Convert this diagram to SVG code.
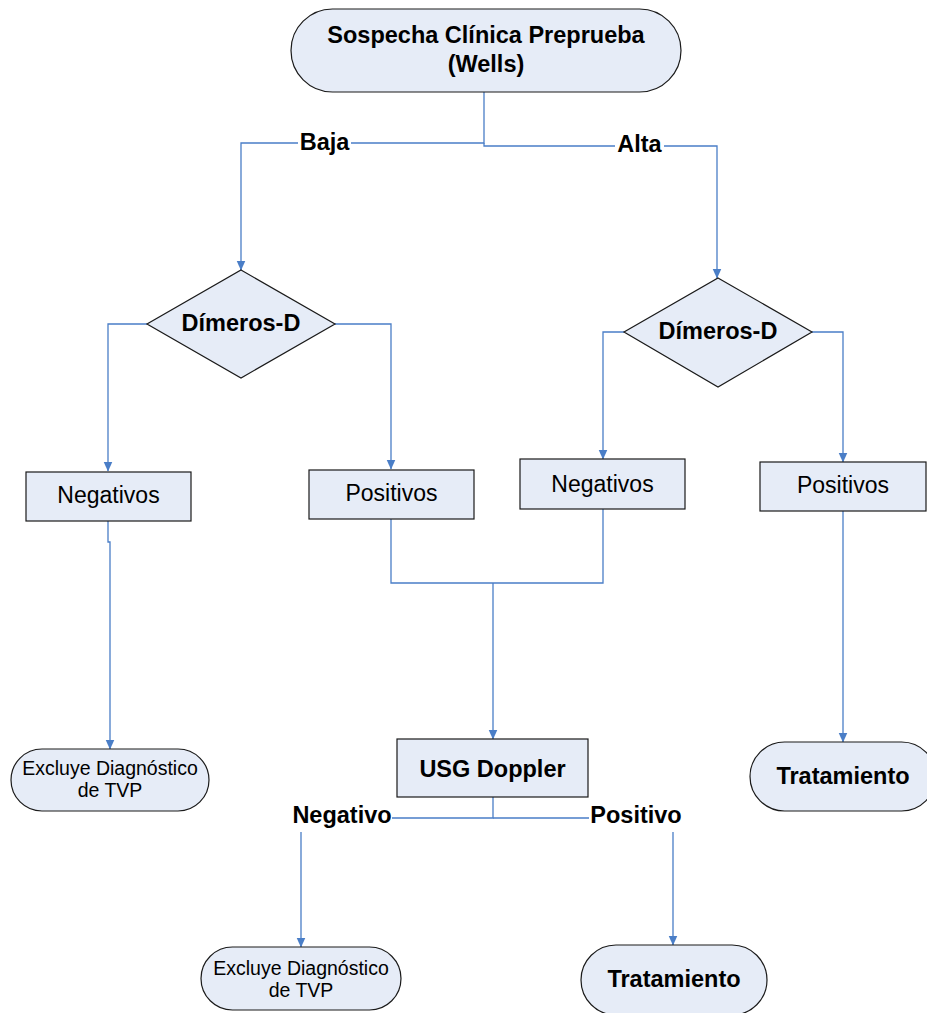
<svg xmlns="http://www.w3.org/2000/svg" width="927" height="1013" viewBox="0 0 927 1013">
<defs>
<style>
.shape{fill:#E6ECF7;stroke:#1a1a1a;stroke-width:1.2}
.conn{fill:none;stroke:#4A7EC7;stroke-width:1.3}
.b{font-family:"Liberation Sans",Arial,sans-serif;font-weight:bold;font-size:23.5px;fill:#000;text-anchor:middle}
.r{font-family:"Liberation Sans",Arial,sans-serif;font-size:23px;fill:#000;text-anchor:middle}
.s{font-family:"Liberation Sans",Arial,sans-serif;font-size:19.5px;fill:#000;text-anchor:middle}
.bg{fill:#fff}
</style>
<marker id="arr" markerUnits="userSpaceOnUse" markerWidth="10" markerHeight="11" refX="9.5" refY="5" orient="auto">
<path d="M0,0.5 L10,5 L0,9.5 Z" fill="#4A7EC7"/>
</marker>
</defs>
<rect width="927" height="1013" fill="#fff"/>
<g id="connectors">
<path class="conn" d="M484,92 V143 H241 V270" marker-end="url(#arr)"/>
<path class="conn" d="M484,143 V146 H717 V278" marker-end="url(#arr)"/>
<path class="conn" d="M147,324 H108 V471" marker-end="url(#arr)"/>
<path class="conn" d="M335,324 H391 V469" marker-end="url(#arr)"/>
<path class="conn" d="M624,332 H603 V459" marker-end="url(#arr)"/>
<path class="conn" d="M812,332 H843 V462" marker-end="url(#arr)"/>
<path class="conn" d="M108,521 V542 H110 V749" marker-end="url(#arr)"/>
<path class="conn" d="M391,519 V583 H603 V509"/>
<path class="conn" d="M493,583 V739" marker-end="url(#arr)"/>
<path class="conn" d="M843,511 V742" marker-end="url(#arr)"/>
<path class="conn" d="M493,797 V818 H301 V947" marker-end="url(#arr)"/>
<path class="conn" d="M493,818 H673 V945" marker-end="url(#arr)"/>
<g id="labels">
<rect class="bg" x="298" y="130" width="53" height="26"/>
<text class="b" x="324.5" y="150">Baja</text>
<rect class="bg" x="615" y="132" width="49" height="26"/>
<text class="b" x="639.5" y="152">Alta</text>
<rect class="bg" x="291" y="804" width="101" height="28"/>
<text class="b" x="342" y="823">Negativo</text>
<rect class="bg" x="589" y="804" width="95" height="28"/>
<text class="b" x="636" y="823">Positivo</text>
</g>
</g>
<g id="n-inicio">
<rect class="shape" x="291" y="9" width="390" height="83" rx="41.5"/>
<text class="b" x="486" y="43">Sospecha Clínica Preprueba</text>
<text class="b" x="486" y="72">(Wells)</text>
</g>
<g id="n-dimeros-baja">
<polygon class="shape" points="241,270 335,324 241,378 147,324"/>
<text class="b" x="241" y="331">Dímeros-D</text>
</g>
<g id="n-dimeros-alta">
<polygon class="shape" points="718,278 812,332 718,387 624,332"/>
<text class="b" x="718" y="339">Dímeros-D</text>
</g>
<g id="n-neg-baja">
<rect class="shape" x="26" y="472" width="165" height="49"/>
<text class="r" x="108.5" y="503">Negativos</text>
</g>
<g id="n-pos-baja">
<rect class="shape" x="309" y="470" width="165" height="49"/>
<text class="r" x="391.5" y="501">Positivos</text>
</g>
<g id="n-neg-alta">
<rect class="shape" x="520" y="459" width="165" height="50"/>
<text class="r" x="602.5" y="492">Negativos</text>
</g>
<g id="n-pos-alta">
<rect class="shape" x="760" y="462" width="166" height="49"/>
<text class="r" x="843" y="493">Positivos</text>
</g>
<g id="n-usg">
<rect class="shape" x="397" y="739" width="191" height="58"/>
<text class="b" x="492.5" y="777">USG Doppler</text>
</g>
<g id="n-excluye-1">
<rect class="shape" x="11" y="749" width="198" height="62" rx="31"/>
<text class="s" x="110" y="775">Excluye Diagnóstico</text>
<text class="s" x="110" y="797">de TVP</text>
</g>
<g id="n-tratamiento-1">
<rect class="shape" x="750" y="742" width="186" height="69" rx="34.5"/>
<text class="b" x="843" y="784">Tratamiento</text>
</g>
<g id="n-excluye-2">
<rect class="shape" x="201" y="947" width="200" height="63" rx="31.5"/>
<text class="s" x="301" y="975">Excluye Diagnóstico</text>
<text class="s" x="301" y="997">de TVP</text>
</g>
<g id="n-tratamiento-2">
<rect class="shape" x="581" y="945" width="186" height="70" rx="35"/>
<text class="b" x="674" y="987">Tratamiento</text>
</g>
</svg>
